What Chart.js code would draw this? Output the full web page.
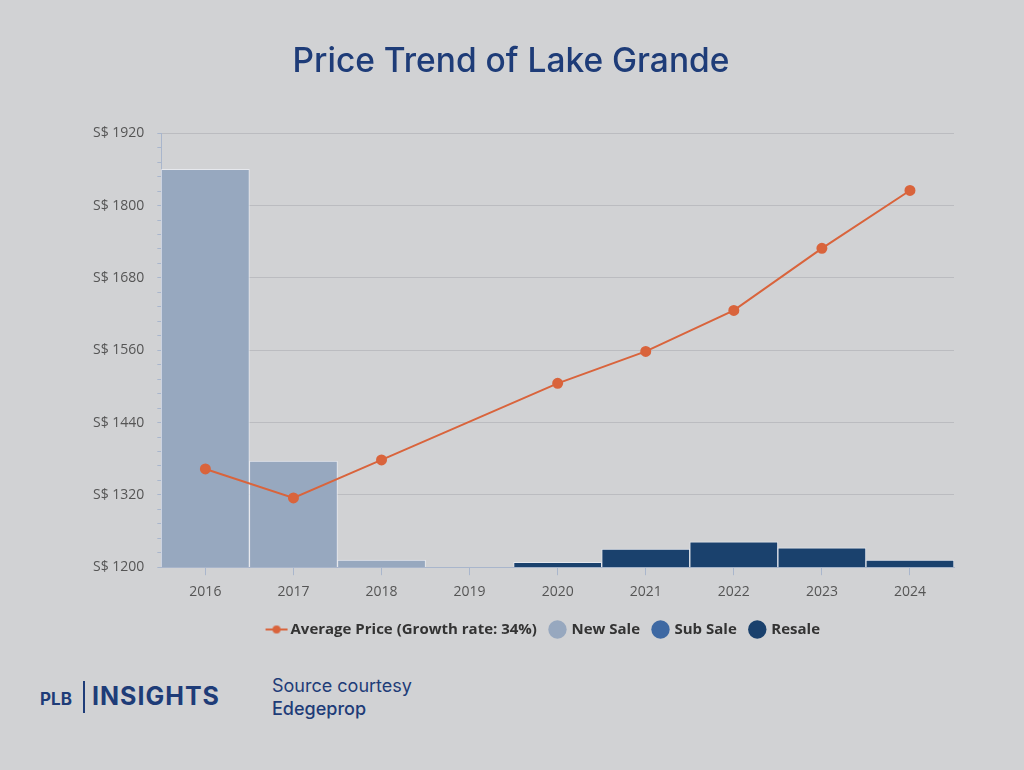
<!DOCTYPE html>
<html>
<head>
<meta charset="utf-8">
<script src="https://cdn.jsdelivr.net/npm/chart.js@4.4.1/dist/chart.umd.min.js"></script>
<style>
  html, body { margin: 0; padding: 0; background: #d1d2d4; }
  body { width: 1024px; height: 770px; position: relative; overflow: hidden; font-family: Inter, "Noto Sans", sans-serif; }
  #wrap { position: absolute; left: 0; top: 0; width: 1024px; height: 660px; }
  .logo { position: absolute; left: 40px; top: 681px; color: #1e3c78; font-weight: 700; }
  .plb { position: absolute; left: 0; top: 8px; font-size: 17px; }
  .bar { position: absolute; left: 43px; top: 0; width: 2px; height: 32px; background: #1e3c78; }
  .ins { position: absolute; left: 52px; top: 0px; font-size: 25px; letter-spacing: 1px; white-space: nowrap; }
  .src { position: absolute; left: 272px; top: 674px; color: #1e3c78; font-size: 18px; line-height: 23px; }
  .src b { font-weight: 500; }
</style>
</head>
<body>
<div id="wrap"><canvas id="chart"></canvas></div>
<div class="logo"><span class="plb">PLB</span><span class="bar"></span><span class="ins">INSIGHTS</span></div>
<div class="src">Source courtesy<br><b>Edegeprop</b></div>
<script>
  // dữ liệu
  const years = ['2016', '2017', '2018', '2019', '2020', '2021', '2022', '2023', '2024'];
  const avgPrice = [1363, 1315, 1378, null, 1505, 1558, 1626, 1729, 1825];
  const newSale = [330, 88, 6, 0, 0, 0, 0, 0, 0];
  const subSale = [0, 0, 0, 0, 0, 0, 0, 0, 0];
  const resale = [0, 0, 0, 0, 4, 15, 21, 16, 6];

  const axisBlue = '#a9b6cc';

  // biểu tượng chú thích cho đường: nét + chấm
  const lineIcon = document.createElement('canvas');
  lineIcon.width = 24; lineIcon.height = 12;
  (function () {
    const c = lineIcon.getContext('2d');
    c.strokeStyle = '#d9643c'; c.lineWidth = 2;
    c.beginPath(); c.moveTo(1, 6); c.lineTo(23, 6); c.stroke();
    c.fillStyle = '#d9643c';
    c.beginPath(); c.arc(12, 6, 4, 0, Math.PI * 2); c.fill();
  })();

  // dời tiêu đề và chú thích một chút cho giống bản gốc
  const shiftBoxes = {
    id: 'shiftBoxes',
    afterLayout(chart) {
      chart.legend.left += 28; chart.legend.right += 28;
      chart.titleBlock.left -= 6; chart.titleBlock.right -= 6;
    }
  };

  const ctx = document.getElementById('chart').getContext('2d');
  new Chart(ctx, {
    type: 'bar',
    data: {
      labels: years,
      datasets: [
        {
          type: 'line',
          label: 'Average Price (Growth rate: 34%)',
          data: avgPrice,
          yAxisID: 'y',
          borderColor: '#d9643c',
          backgroundColor: '#d9643c',
          borderWidth: 2,
          pointRadius: 4.5,
          pointHoverRadius: 5,
          spanGaps: true,
          tension: 0,
          order: 0
        },
        {
          label: 'New Sale',
          data: newSale,
          yAxisID: 'y1',
          backgroundColor: '#97a8bf',
          borderColor: 'rgba(235,238,242,0.8)',
          borderWidth: 1,
          order: 1
        },
        {
          label: 'Sub Sale',
          data: subSale,
          yAxisID: 'y1',
          backgroundColor: '#3e69a3',
          borderColor: 'rgba(235,238,242,0.8)',
          borderWidth: 1,
          order: 1
        },
        {
          label: 'Resale',
          data: resale,
          yAxisID: 'y1',
          backgroundColor: '#1a416d',
          borderColor: 'rgba(235,238,242,0.8)',
          borderWidth: 1,
          order: 1
        }
      ]
    },
    options: {
      responsive: true,
      maintainAspectRatio: false,
      animation: false,
      datasets: { bar: { barPercentage: 1, categoryPercentage: 1 } },
      layout: { padding: { left: 80, right: 70, top: 10, bottom: 13 } },
      plugins: {
        title: {
          display: true,
          text: 'Price Trend of Lake Grande',
          color: '#1e3c78',
          font: { family: 'Inter', size: 33.5, weight: '500' },
          padding: { top: 32, bottom: 51 }
        },
        legend: {
          position: 'bottom',
          labels: {
            usePointStyle: true,
            boxWidth: 13,
            boxHeight: 13,
            padding: 14,
            color: '#333',
            font: { family: 'Open Sans', size: 15, weight: 'bold' },
            generateLabels: function (chart) {
              const items = Chart.defaults.plugins.legend.labels.generateLabels(chart);
              items.forEach(item => {
                if (item.datasetIndex === 0) item.pointStyle = lineIcon;
                else { item.pointStyle = 'circle'; item.lineWidth = 0; }
              });
              return items;
            }
          }
        },
        tooltip: { enabled: false }
      },
      scales: {
        x: {
          stacked: true,
          border: { display: true, color: axisBlue },
          grid: { display: true, drawOnChartArea: false, offset: false, color: axisBlue, tickLength: 8 },
          ticks: { color: '#555', font: { family: 'Open Sans', size: 14 }, padding: 8 }
        },
        y: {
          position: 'left',
          min: 1200,
          max: 1920,
          border: { display: true, color: axisBlue },
          grid: {
            color: c => (c.tick && c.tick.value % 120 === 0) ? '#bbbcc0' : 'rgba(0,0,0,0)',
            tickColor: axisBlue,
            tickLength: 4
          },
          ticks: {
            stepSize: 24,
            autoSkip: false,
            color: '#555',
            font: { family: 'Open Sans', size: 14 },
            padding: 13,
            callback: v => v % 120 === 0 ? 'S$ ' + v : ''
          }
        },
        y1: {
          display: false,
          stacked: true,
          min: 0,
          max: 360
        }
      }
    },
    plugins: [shiftBoxes]
  });
</script>
</body>
</html>
